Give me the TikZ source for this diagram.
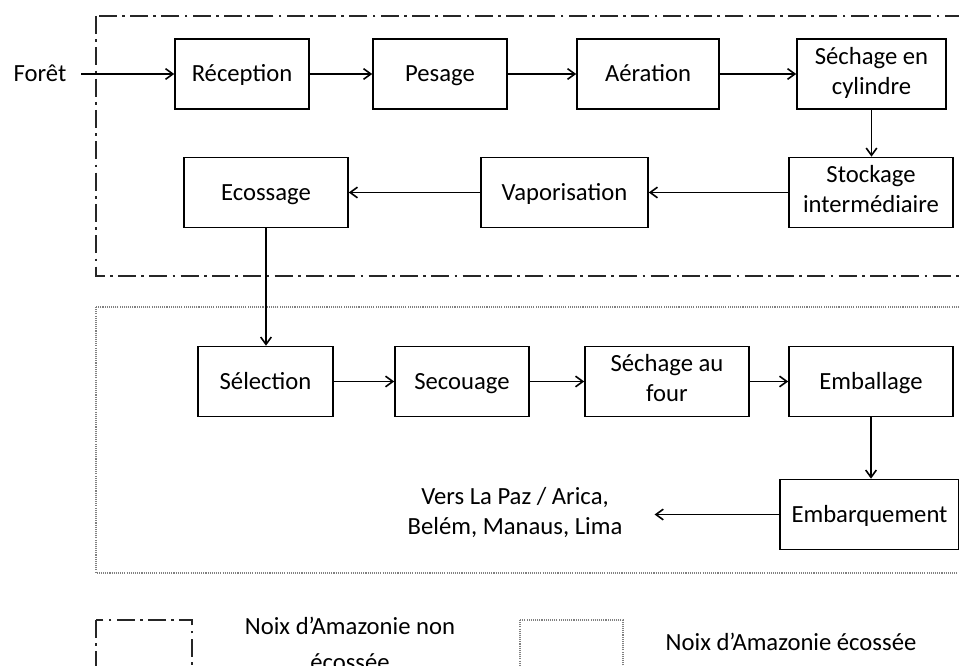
\documentclass[tikz,border=0pt]{standalone}
\usepackage{fontspec}
\setmainfont{Carlito}
\usetikzlibrary{arrows.meta,positioning}
\newcommand{\capstrut}{\rule[-0.26em]{0pt}{1.16em}}
\tikzset{
  procbox/.style={draw, line width=1.2pt, minimum width=#1*0.75pt, minimum height=52.5pt,
    inner sep=0pt, align=center, font=\fontsize{18.5}{22.5}\selectfont,
    execute at begin node=\capstrut, execute at end node=\capstrut},
  lbl/.style={align=center, font=\fontsize{18.5}{22.5}\selectfont,
    execute at begin node=\capstrut, execute at end node=\capstrut},
  flowln/.style={-{Straight Barb[length=5.5pt,width=8pt]}, line width=1.2pt},
  peelln/.style={dash pattern=on 13.5pt off 4pt on 2pt off 4pt, line width=1.3pt, black!85},
  shelln/.style={dash pattern=on 0.8pt off 0.8pt, line width=1pt, gray},
}

\begin{document}
\begin{tikzpicture}[x=0.75pt, y=-0.75pt]
      \clip (0,0) rectangle (959,666);
      % frames: unshelled / shelled nuts
      \draw[peelln] (96,16) rectangle (990,276);
      \draw[shelln] (96,307) rectangle (990,573);
      % first row
      \node[lbl, inner xsep=11pt] (foret) at (40,74) {Forêt};
      \node[procbox=134] (recep) at (242,74) {Réception};
      \node[procbox=134] (pesage) at (440,74) {Pesage};
      \node[procbox=142] (aerat) at (648,74) {Aération};
      \node[procbox=149] (sechcyl) at (871.5,74) {Séchage en\\cylindre};
      % second row, right to left
      \node[procbox=164] (stock) at (871,192.5) {Stockage\\intermédiaire};
      \node[procbox=167] (vapo) at (564.5,192.5) {Vaporisation};
      \node[procbox=164] (ecoss) at (266,192.5) {Ecossage};
      % shelled nuts
      \node[procbox=135] (select) at (265.5,381.5) {Sélection};
      \node[procbox=134] (secou) at (462,381.5) {Secouage};
      \node[procbox=164] (sechfour) at (667,381.5) {Séchage au\\four};
      \node[procbox=164] (emball) at (871,381.5) {Emballage};
      \node[procbox=179] (embarq) at (869.5,514.5) {Embarquement};
      \node[lbl, inner xsep=24pt] (dest) at (515,514.5) {Vers La Paz / Arica,\\Belém, Manaus, Lima};
      % flow
      \draw[flowln] (foret) -- (recep);
      \draw[flowln] (recep) -- (pesage);
      \draw[flowln] (pesage) -- (aerat);
      \draw[flowln] (aerat) -- (sechcyl);
      \draw[flowln] (sechcyl.south) -- (sechcyl.south |- stock.north);
      \draw[flowln] (stock) -- (vapo);
      \draw[flowln] (vapo) -- (ecoss);
      \draw[flowln] (ecoss.south) -- (ecoss.south |- select.north);
      \draw[flowln] (select) -- (secou);
      \draw[flowln] (secou) -- (sechfour);
      \draw[flowln] (sechfour) -- (emball);
      \draw[flowln] (emball.south) -- (emball.south |- embarq.north);
      \draw[flowln] (embarq) -- (dest);
      % legend
      \draw[peelln] (96,620) rectangle (192,700);
      \node[lbl] (keypeel) at (350,647) {Noix d’Amazonie non\\[5pt]écossée};
      \draw[shelln] (520,620) rectangle (623,700);
      \node[lbl] (keyshell) at (791,643) {Noix d’Amazonie écossée};
\end{tikzpicture}
\end{document}
